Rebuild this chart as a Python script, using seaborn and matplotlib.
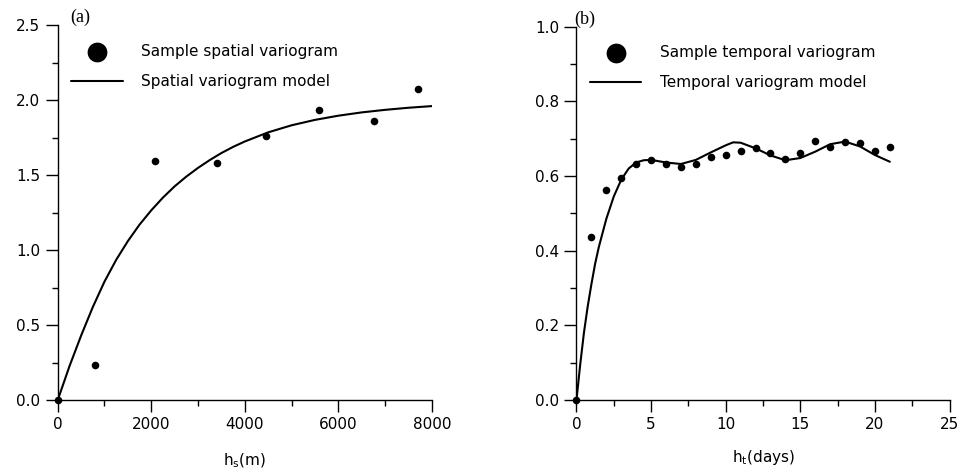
import numpy as np
import pandas as pd
import matplotlib
matplotlib.use('Agg')
import matplotlib.pyplot as plt
from matplotlib.ticker import MultipleLocator
import seaborn as sns

# sample spatial variogram
hs_lag = [0, 800, 2080, 3410, 4460, 5590, 6760, 7700]
hs_gamma = [0.0, 0.233, 1.593, 1.58, 1.764, 1.931, 1.858, 2.071]

# spatial variogram model
hs_model = [0, 250, 500, 750, 1000, 1250, 1500, 1750, 2000, 2250, 2500, 2750, 3000,
            3250, 3500, 3750, 4000, 4500, 5000, 5500, 6000, 6500, 7000, 7500, 8000]
hs_model_gamma = [0.0, 0.225, 0.43, 0.62, 0.79, 0.935, 1.06, 1.17, 1.265, 1.35, 1.425,
                  1.49, 1.548, 1.60, 1.647, 1.688, 1.724, 1.785, 1.832, 1.868, 1.896,
                  1.918, 1.935, 1.949, 1.960]

# sample temporal variogram
ht_lag = list(range(0, 22))
ht_gamma = [0.0, 0.436, 0.562, 0.595, 0.631, 0.644, 0.633, 0.624, 0.633, 0.650,
            0.656, 0.667, 0.675, 0.662, 0.646, 0.662, 0.694, 0.678, 0.692, 0.688,
            0.667, 0.678]

# temporal variogram model
ht_model = [0, 0.25, 0.5, 0.75, 1, 1.25, 1.5, 2, 2.5, 3, 3.5, 4, 4.5, 5, 6, 7, 8, 9,
            10, 10.5, 11, 12, 13, 14, 15, 16, 17, 18, 19, 20, 21]
ht_model_gamma = [0.0, 0.095, 0.18, 0.25, 0.31, 0.365, 0.41, 0.485, 0.545, 0.59, 0.62,
                  0.636, 0.642, 0.643, 0.636, 0.632, 0.643, 0.663, 0.682, 0.690, 0.689,
                  0.674, 0.655, 0.642, 0.648, 0.665, 0.685, 0.692, 0.679, 0.656, 0.638]

sns.set_style('ticks')
plt.rcParams['font.family'] = ['DejaVu Sans']
plt.rcParams['mathtext.fontset'] = 'dejavusans'
plt.rcParams['text.color'] = 'black'
plt.rcParams['axes.labelcolor'] = 'black'
plt.rcParams['lines.solid_joinstyle'] = 'round'

fig = plt.figure(figsize=(9.64, 4.74), dpi=100)
ax1 = fig.add_axes([0.0599, 0.156, 0.388, 0.791])
ax2 = fig.add_axes([0.598, 0.156, 0.387, 0.788])

sns.scatterplot(x=hs_lag, y=hs_gamma, ax=ax1, color='black', s=30,
                edgecolor='black', linewidth=0, label='Sample spatial variogram', zorder=3)
sns.lineplot(x=hs_model, y=hs_model_gamma, ax=ax1, color='black', lw=1.5,
             label='Spatial variogram model')
sns.scatterplot(x=ht_lag, y=ht_gamma, ax=ax2, color='black', s=30,
                edgecolor='black', linewidth=0, label='Sample temporal variogram', zorder=3)
sns.lineplot(x=ht_model, y=ht_model_gamma, ax=ax2, color='black', lw=1.5,
             label='Temporal variogram model')

ax1.set_xlim(0, 8000)
ax1.set_ylim(0, 2.5)
ax1.xaxis.set_major_locator(MultipleLocator(2000))
ax1.xaxis.set_minor_locator(MultipleLocator(1000))
ax1.yaxis.set_major_locator(MultipleLocator(0.5))
ax1.yaxis.set_minor_locator(MultipleLocator(0.25))
ax1.yaxis.set_major_formatter(matplotlib.ticker.FormatStrFormatter('%.1f'))

ax2.set_xlim(0, 25)
ax2.set_ylim(0, 1.0)
ax2.xaxis.set_major_locator(MultipleLocator(5))
ax2.xaxis.set_minor_locator(MultipleLocator(2.5))
ax2.yaxis.set_major_locator(MultipleLocator(0.2))
ax2.yaxis.set_minor_locator(MultipleLocator(0.1))
ax2.yaxis.set_major_formatter(matplotlib.ticker.FormatStrFormatter('%.1f'))

ax1.set_xlabel(r'h$_\mathregular{s}$(m)', fontsize=11, labelpad=14)
ax2.set_xlabel(r'h$_\mathregular{t}$(days)', fontsize=11, labelpad=11)

for ax, lab in [(ax1, '(a)'), (ax2, '(b)')]:
    sns.despine(ax=ax)
    for sp in ['left', 'bottom']:
        ax.spines[sp].set_linewidth(1.0)
        ax.spines[sp].set_color('black')
    ax.tick_params(which='major', length=8.5, width=1.0, labelsize=11, pad=4,
                   colors='black', labelcolor='black')
    ax.tick_params(which='minor', length=4, width=1.0, colors='black')
    for c in ax.collections:
        c.set_clip_on(False)
    leg = ax.legend(loc='upper left', bbox_to_anchor=(0.035, 0.95), frameon=False,
                    fontsize=11, markerscale=2.6, handlelength=3.4, handletextpad=1.2,
                    labelspacing=1.0, borderaxespad=0, borderpad=0)
    for t in leg.get_texts():
        t.set_color('black')

fig.text(0.073, 0.953, '(a)', family='Liberation Serif', fontsize=13)
fig.text(0.596, 0.950, '(b)', family='Liberation Serif', fontsize=13)

plt.savefig('out.png', dpi=100)
